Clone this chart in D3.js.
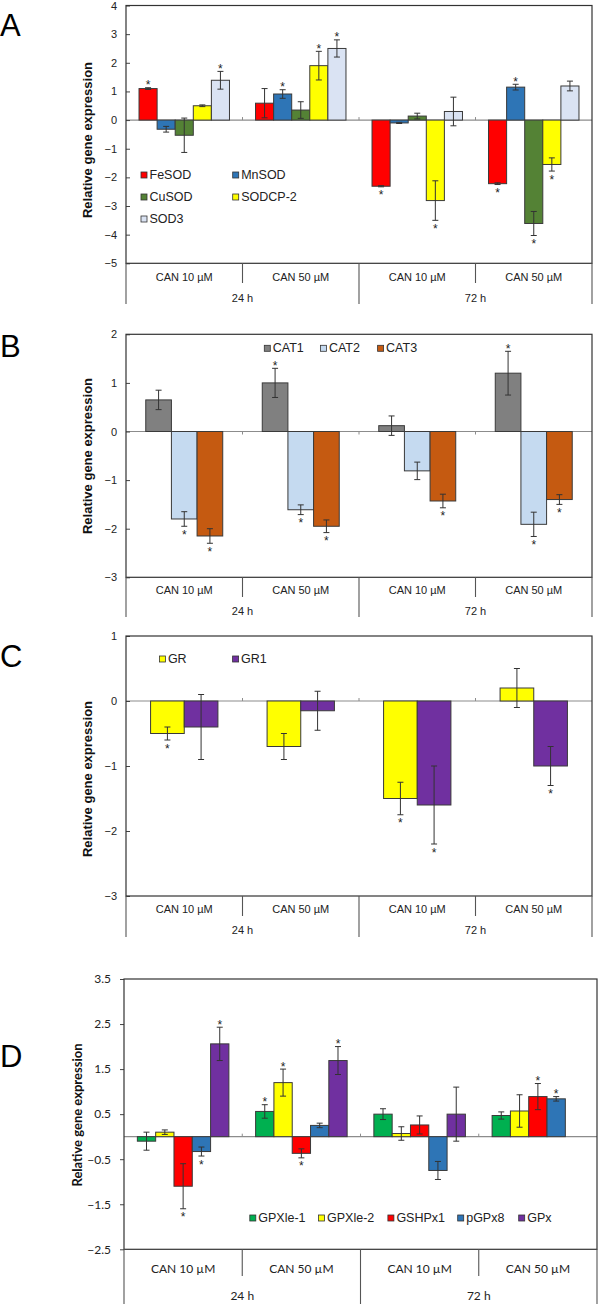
<!DOCTYPE html>
<html><head><meta charset="utf-8">
<script src="https://cdn.jsdelivr.net/npm/d3@7"></script>
<style>body{margin:0;background:#fff}svg{display:block}</style>
</head><body>
<svg id="c" width="598" height="1304"></svg>
<script>
// ---------- DATA ----------
const categories = ["CAN 10 µM", "CAN 50 µM", "CAN 10 µM", "CAN 50 µM"];
const groups = ["24 h", "72 h"];

// Panel A
const seriesA = ["FeSOD", "MnSOD", "CuSOD", "SODCP-2", "SOD3"];
const colorsA = ["#ff0000", "#2e75b6", "#548235", "#ffff00", "#dae3f3"];
const valuesA = [
  [1.10, 0.59, -2.31, -2.22],
  [-0.32, 0.91, -0.10, 1.15],
  [-0.53, 0.35, 0.14, -3.61],
  [0.50, 1.90, -2.81, -1.55],
  [1.39, 2.50, 0.30, 1.19]
];
const errorsA = [
  [0.03, 0.51, 0.02, 0.03],
  [0.10, 0.15, 0.02, 0.10],
  [0.60, 0.29, 0.10, 0.42],
  [0.03, 0.50, 0.69, 0.23],
  [0.31, 0.30, 0.50, 0.17]
];
const starsA = [
  [1, 0, 1, 1],
  [0, 1, 0, 1],
  [0, 0, 0, 1],
  [0, 1, 1, 1],
  [1, 1, 0, 0]
];
const ticksA = [-5, -4, -3, -2, -1, 0, 1, 2, 3, 4];

// Panel B
const seriesB = ["CAT1", "CAT2", "CAT3"];
const colorsB = ["#808080", "#c5daf0", "#c55a11"];
const valuesB = [
  [0.65, 1.00, 0.12, 1.20],
  [-1.80, -1.61, -0.81, -1.91],
  [-2.15, -1.95, -1.43, -1.40]
];
const errorsB = [
  [0.20, 0.30, 0.20, 0.45],
  [0.15, 0.10, 0.18, 0.25],
  [0.15, 0.13, 0.14, 0.10]
];
const starsB = [
  [0, 1, 0, 1],
  [1, 1, 0, 1],
  [1, 1, 1, 1]
];
const ticksB = [-3, -2, -1, 0, 1, 2];

// Panel C
const seriesC = ["GR", "GR1"];
const colorsC = ["#ffff00", "#7030a0"];
const valuesC = [
  [-0.50, -0.70, -1.50, 0.20],
  [-0.40, -0.15, -1.60, -1.00]
];
const errorsC = [
  [0.10, 0.20, 0.25, 0.30],
  [0.50, 0.30, 0.60, 0.30]
];
const starsC = [
  [1, 0, 1, 0],
  [0, 0, 1, 1]
];
const ticksC = [-3, -2, -1, 0, 1];

// Panel D
const seriesD = ["GPXle-1", "GPXle-2", "GSHPx1", "pGPx8", "GPx"];
const colorsD = ["#00b050", "#ffff00", "#ff0000", "#2e75b6", "#7030a0"];
const valuesD = [
  [-0.10, 0.56, 0.50, 0.47],
  [0.10, 1.20, 0.07, 0.57],
  [-1.10, -0.37, 0.26, 0.89],
  [-0.33, 0.25, -0.75, 0.84],
  [2.06, 1.69, 0.50, null]
];
const errorsD = [
  [0.20, 0.15, 0.12, 0.08],
  [0.05, 0.30, 0.15, 0.36],
  [0.50, 0.10, 0.20, 0.29],
  [0.10, 0.05, 0.20, 0.05],
  [0.37, 0.31, 0.60, null]
];
const starsD = [
  [0, 1, 0, 0],
  [0, 1, 0, 0],
  [1, 1, 0, 1],
  [1, 0, 0, 1],
  [1, 1, 0, 0]
];
const ticksD = [-2.5, -1.5, -0.5, 0.5, 1.5, 2.5, 3.5];

// ---------- DRAW ----------
const svg = d3.select("#c");
const ARIAL = "'Liberation Sans', Arial, sans-serif";
const CALI = "Lato, 'Open Sans', sans-serif";

function panel(cfg) {
  const g = svg.append("g");
  const x0 = d3.scaleBand().domain(d3.range(categories.length)).range([cfg.left, cfg.right]);
  const x1 = d3.scaleBand().domain(cfg.series).range([0, x0.bandwidth()])
    .paddingInner(0).paddingOuter(cfg.pad);
  const y = d3.scaleLinear().domain(cfg.domain).range([cfg.bottom, cfg.top]);

  // zero line
  g.append("line").attr("x1", cfg.left).attr("x2", cfg.right)
    .attr("y1", y(0)).attr("y2", y(0)).attr("stroke", "#8c8c8c").attr("stroke-width", 1.2);
  [1, 2, 3].forEach(i => {
    const xx = x0(i);
    g.append("line").attr("x1", xx).attr("x2", xx)
      .attr("y1", y(0)).attr("y2", y(0) + cfg.zeroTick)
      .attr("stroke", "#8c8c8c").attr("stroke-width", 1);
  });

  // bars
  cfg.series.forEach((s, si) => {
    cfg.values[si].forEach((v, ci) => {
      if (v == null) return;
      const bx = x0(ci) + x1(s);
      const bw = x1.bandwidth();
      g.append("rect")
        .attr("x", bx).attr("width", bw)
        .attr("y", Math.min(y(v), y(0))).attr("height", Math.abs(y(v) - y(0)))
        .attr("fill", cfg.colors[si]).attr("stroke", "#3a3a3a").attr("stroke-width", 1);
    });
  });
  // error bars and stars
  cfg.series.forEach((s, si) => {
    cfg.values[si].forEach((v, ci) => {
      if (v == null) return;
      const e = cfg.errors[si][ci];
      const cx = x0(ci) + x1(s) + x1.bandwidth() / 2;
      const yt = y(v + e), yb = y(v - e);
      g.append("line").attr("x1", cx).attr("x2", cx).attr("y1", yt).attr("y2", yb)
        .attr("stroke", "#333").attr("stroke-width", 1);
      [yt, yb].forEach(yy => g.append("line").attr("x1", cx - 3).attr("x2", cx + 3)
        .attr("y1", yy).attr("y2", yy).attr("stroke", "#333").attr("stroke-width", 1));
      if (cfg.stars[si][ci]) {
        g.append("text").attr("x", cx).attr("y", v >= 0 ? yt + 1.5 : yb + 12.5)
          .attr("text-anchor", "middle").attr("font-family", ARIAL).attr("font-size", 12)
          .attr("fill", "#222").text("*");
      }
    });
  });

  // y axis
  const ax = g.append("g").attr("transform", `translate(${cfg.left},0)`)
    .call(d3.axisLeft(y).tickValues(cfg.ticks).tickFormat(cfg.fmt)
      .tickSize(cfg.tickSize).tickPadding(cfg.tickPad));
  ax.select(".domain").remove();
  ax.selectAll(".tick line").attr("stroke", "#444");
  ax.selectAll(".tick text").attr("font-family", cfg.font).attr("font-size", cfg.tickFont)
    .attr("fill", "#222");

  // frame
  g.append("rect").attr("x", cfg.left).attr("y", cfg.top)
    .attr("width", cfg.right - cfg.left).attr("height", cfg.bottom - cfg.top)
    .attr("fill", "none").attr("stroke", "#333").attr("stroke-width", 1.2);

  // category axis dividers
  [0, 1, 2, 3, 4].forEach(i => {
    const xx = i < 4 ? x0(i) : cfg.right;
    const outer = (i % 2 === 0);
    g.append("line").attr("x1", xx).attr("x2", xx)
      .attr("y1", cfg.bottom).attr("y2", outer ? cfg.outerBottom : cfg.innerBottom)
      .attr("stroke", "#555").attr("stroke-width", 1.1);
  });
  categories.forEach((c, i) => {
    g.append("text").attr("x", x0(i) + x0.bandwidth() / 2).attr("y", cfg.catY)
      .attr("text-anchor", "middle").attr("font-family", cfg.font).attr("font-size", cfg.catFont)
      .attr("fill", "#222").text(c);
  });
  groups.forEach((gr, i) => {
    g.append("text").attr("x", x0(i * 2 + 1)).attr("y", cfg.groupY)
      .attr("text-anchor", "middle").attr("font-family", cfg.font).attr("font-size", cfg.catFont)
      .attr("fill", "#222").text(gr);
  });

  // y title
  g.append("text").attr("transform", `translate(${cfg.titleX},${cfg.titleY}) rotate(-90)`)
    .attr("text-anchor", "middle").attr("dominant-baseline", "central")
    .attr("font-family", cfg.font).attr("font-weight", "bold").attr("font-size", cfg.titleFont)
    .attr("fill", "#111").text("Relative gene expression");

  // panel letter
  g.append("text").attr("x", 0).attr("y", cfg.letterY)
    .attr("font-family", ARIAL).attr("font-size", 31).attr("fill", "#000").text(cfg.letter);

  // legend
  cfg.series.forEach((s, si) => {
    const [lx, ly] = cfg.legend[si];
    g.append("rect").attr("x", lx).attr("y", ly - 3).attr("width", 6).attr("height", 6)
      .attr("fill", cfg.colors[si]).attr("stroke", "#333").attr("stroke-width", 0.8);
    g.append("text").attr("x", lx + 8.5).attr("y", ly).attr("dominant-baseline", "central")
      .attr("font-family", ARIAL).attr("font-size", 12.5).attr("fill", "#222").text(s);
  });
}

const fmtInt = d3.format("d");
const fmtD = d3.format(".1f");

panel({
  letter: "A", letterY: 36,
  series: seriesA, colors: colorsA, values: valuesA, errors: errorsA, stars: starsA,
  left: 126, right: 592, top: 5.5, bottom: 263.3, domain: [-5, 4], ticks: ticksA, fmt: fmtInt,
  pad: 0.72, zeroTick: -3, tickSize: -4, tickPad: 9, font: ARIAL, tickFont: 11, catFont: 11,
  catY: 281, groupY: 302, innerBottom: 283, outerBottom: 304,
  titleX: 87, titleY: 140, titleFont: 13,
  legend: [[141, 175], [232.7, 175], [141, 197], [232.7, 197], [141, 219]]
});
panel({
  letter: "B", letterY: 357,
  series: seriesB, colors: colorsB, values: valuesB, errors: errorsB, stars: starsB,
  left: 126, right: 592, top: 334.3, bottom: 577.3, domain: [-3, 2], ticks: ticksB, fmt: fmtInt,
  pad: 0.77, zeroTick: 3, tickSize: -4, tickPad: 9, font: ARIAL, tickFont: 11, catFont: 11,
  catY: 594, groupY: 615, innerBottom: 597, outerBottom: 617,
  titleX: 87, titleY: 456, titleFont: 13,
  legend: [[264.3, 348.3], [320.4, 348.3], [377.6, 348.3]]
});
panel({
  letter: "C", letterY: 667,
  series: seriesC, colors: colorsC, values: valuesC, errors: errorsC, stars: starsC,
  left: 126, right: 592, top: 636, bottom: 896, domain: [-3, 1], ticks: ticksC, fmt: fmtInt,
  pad: 0.73, zeroTick: -3, tickSize: -4, tickPad: 9, font: ARIAL, tickFont: 11, catFont: 11,
  catY: 913, groupY: 934, innerBottom: 916, outerBottom: 937,
  titleX: 87, titleY: 779, titleFont: 13,
  legend: [[159.4, 659], [232.6, 659]]
});
panel({
  letter: "D", letterY: 1067,
  series: seriesD, colors: colorsD, values: valuesD, errors: errorsD, stars: starsD,
  left: 124, right: 597, top: 979, bottom: 1249.3, domain: [-2.5, 3.5], ticks: ticksD, fmt: fmtD,
  pad: 0.73, zeroTick: -3, tickSize: 4, tickPad: 9, font: CALI, tickFont: 12, catFont: 12,
  catY: 1272.5, groupY: 1299.5, innerBottom: 1276, outerBottom: 1304,
  titleX: 77, titleY: 1115, titleFont: 13,
  legend: [[249.8, 1218], [318.5, 1218], [387.9, 1218], [457.7, 1218], [518.7, 1218]]
});
</script>
</body></html>
